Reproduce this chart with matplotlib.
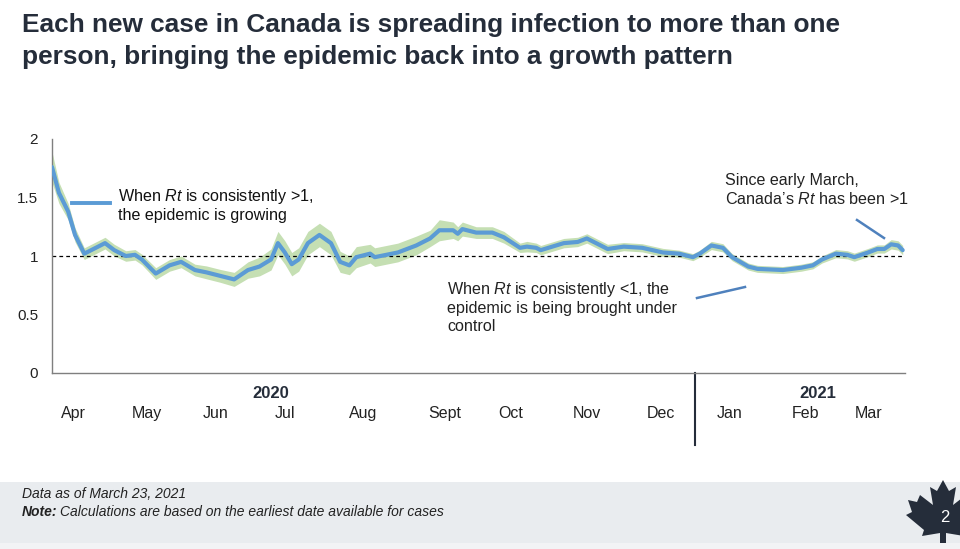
import matplotlib
matplotlib.use('Agg')
import numpy as np
from matplotlib import pyplot as plt
from matplotlib.patches import Rectangle, Polygon

plt.rcParams['font.family'] = ['Liberation Sans', 'DejaVu Sans']
plt.rcParams['mathtext.fontset'] = 'custom'
plt.rcParams['mathtext.rm'] = 'Liberation Sans'
plt.rcParams['mathtext.it'] = 'Liberation Sans:italic'

# Rt estimate (day index from mid-March 2020)
days = [0, 3, 7, 10, 14, 19, 23, 27, 32, 36, 39, 45, 51, 56, 62, 67, 73, 79, 85, 90,
        95, 98, 101, 104, 107, 111, 116, 121, 125, 129, 132, 138, 140, 150, 158, 164, 168,
        174, 176, 178, 184, 191, 196, 203, 206, 210, 212, 222, 228, 232, 241, 248, 256,
        265, 272, 278, 281, 286, 291, 295, 302, 306, 317, 325, 330, 334, 340, 345, 348,
        354, 358, 361, 364, 367, 369]
rt = [1.76, 1.54, 1.38, 1.18, 1.02, 1.07, 1.11, 1.05, 1.00, 1.01, 0.97, 0.85, 0.92, 0.95,
      0.88, 0.86, 0.83, 0.80, 0.88, 0.91, 0.97, 1.11, 1.03, 0.93, 0.97, 1.11, 1.18, 1.11,
      0.95, 0.92, 0.99, 1.02, 0.99, 1.03, 1.09, 1.15, 1.22, 1.22, 1.19, 1.23, 1.20, 1.20,
      1.16, 1.07, 1.08, 1.07, 1.05, 1.11, 1.12, 1.15, 1.06, 1.08, 1.07, 1.03, 1.02, 0.99,
      1.02, 1.09, 1.07, 0.99, 0.91, 0.89, 0.88, 0.90, 0.92, 0.97, 1.02, 1.01, 0.99, 1.03,
      1.06, 1.06, 1.10, 1.09, 1.05]
# half width of the uncertainty band
band = [0.13, 0.09, 0.07, 0.06, 0.05, 0.05, 0.05, 0.05, 0.045, 0.045, 0.045, 0.05, 0.05,
        0.05, 0.05, 0.055, 0.055, 0.06, 0.07, 0.08, 0.09, 0.1, 0.1, 0.1, 0.1, 0.1,
        0.1, 0.1, 0.09, 0.08, 0.09, 0.08, 0.08, 0.08, 0.08, 0.07, 0.09, 0.07, 0.06, 0.06,
        0.05, 0.05, 0.05, 0.04, 0.045, 0.04, 0.04, 0.04, 0.04, 0.04, 0.04, 0.035, 0.035,
        0.035, 0.03, 0.03, 0.03, 0.035, 0.035, 0.03, 0.03, 0.03, 0.03, 0.03, 0.03, 0.03,
        0.035, 0.035, 0.035, 0.035, 0.035, 0.035, 0.04, 0.04, 0.04]

months = ['Apr', 'May', 'Jun', 'Jul', 'Aug', 'Sept', 'Oct', 'Nov', 'Dec', 'Jan', 'Feb', 'Mar']
month_pos = [9.5, 41, 71, 101, 135, 170.5, 199, 232, 264, 294, 327, 354]
years = ['2020', '2021']
year_pos = [95, 332]
year_split = 279

W, H = 960, 549
navy = '#252d3a'
blue = '#5b9bd5'
green = '#c5dfb3'


def fx(px):
    return px / W


def fy(py):
    return 1 - py / H


fig = plt.figure(figsize=(9.6, 5.49), dpi=100)

# footer band
fig.patches.append(Rectangle((0, fy(543)), 1, fy(482) - fy(543), transform=fig.transFigure,
                             facecolor='#e9ecef', edgecolor='none', zorder=0))
fig.patches.append(Rectangle((0, 0), 1, fy(543), transform=fig.transFigure,
                             facecolor='#f2f3f5', edgecolor='none', zorder=0))

ax = fig.add_axes([fx(52), fy(373), fx(905) - fx(52), fy(139) - fy(373)])
x = np.array(days)
y = np.array(rt)
hw = np.array(band)
ax.fill_between(x, y - hw, y + hw, color=green, lw=0, zorder=1)
ax.plot(x, y, color=blue, lw=3, solid_joinstyle='round', solid_capstyle='round', zorder=3)
ax.axhline(1, color='black', lw=0.9, ls=(0, (3, 2.5)), zorder=2)

ax.set_xlim(0, 370)
ax.set_ylim(0, 2)
ax.set_yticks([0, 0.5, 1, 1.5, 2])
ax.set_yticklabels(['0', '0.5', '1', '1.5', '2'])
ax.set_xticks([])
ax.tick_params(axis='y', length=0, pad=10, labelsize=11, labelcolor='#222222')
for s in ['top', 'right']:
    ax.spines[s].set_visible(False)
ax.spines['left'].set_color('#7f7f7f')
ax.spines['bottom'].set_color('#7f7f7f')
ax.spines['left'].set_linewidth(1)
ax.spines['bottom'].set_linewidth(1)

tr = ax.get_xaxis_transform()
for m, p in zip(months, month_pos):
    ax.text(p, -0.175, m, transform=tr, ha='center', va='center', fontsize=11.5, color='#222222')
for yr, p in zip(years, year_pos):
    ax.text(p, -0.087, yr, transform=tr, ha='center', va='center', fontsize=12,
            fontweight='bold', color=navy)
ax.plot([year_split, year_split], [0, -0.308], transform=tr, color=navy, lw=1.5, clip_on=False)

# title
fig.text(fx(22), fy(25), 'Each new case in Canada is spreading infection to more than one',
         fontsize=18.9, fontweight='bold', color=navy, va='center')
fig.text(fx(22), fy(57), 'person, bringing the epidemic back into a growth pattern',
         fontsize=18.9, fontweight='bold', color=navy, va='center')

# annotations
fig.add_artist(plt.Line2D([fx(72), fx(110)], [fy(203), fy(203)], color=blue, lw=2.8))
fig.text(fx(118), fy(205), 'When $\\mathit{Rt}$ is consistently >1,\nthe epidemic is growing',
         fontsize=11.6, color='#111111', va='center', linespacing=1.2)
fig.add_artist(plt.Line2D([fx(697), fx(745)], [fy(298), fy(287)], color='#4f81bd', lw=1.8))
fig.text(fx(447), fy(307),
         'When $\\mathit{Rt}$ is consistently <1, the\nepidemic is being brought under\ncontrol',
         fontsize=11.6, color='#222222', va='center', linespacing=1.2)
fig.add_artist(plt.Line2D([fx(857), fx(884)], [fy(220), fy(238)], color='#4f81bd', lw=1.8))
fig.text(fx(725), fy(190), 'Since early March,\nCanada\u2019s $\\mathit{Rt}$ has been >1',
         fontsize=11.6, color='#222222', va='center', linespacing=1.2)

# footer
fig.text(fx(22), fy(494), 'Data as of March 23, 2021', fontsize=10, style='italic',
         color='#222222', va='center')
fig.text(fx(22), fy(512), 'Note:', fontsize=10, style='italic', fontweight='bold',
         color='#222222', va='center')
fig.text(fx(60), fy(512), 'Calculations are based on the earliest date available for cases',
         fontsize=10, style='italic', color='#222222', va='center')

# maple leaf page marker
leaf = [(943, 480), (949, 491), (956, 487), (953, 505), (966, 495), (969, 502), (978, 500),
        (974, 512), (980, 515), (962, 530), (964, 536), (946, 533), (946, 543), (940, 543),
        (940, 533), (922, 536), (924, 530), (906, 515), (912, 512), (908, 500), (917, 502),
        (920, 495), (933, 505), (930, 487), (937, 491)]
fig.patches.append(Polygon([(fx(a), fy(b)) for a, b in leaf], closed=True,
                           transform=fig.transFigure, facecolor=navy, edgecolor='none'))
fig.text(fx(945), fy(517), '2', fontsize=12, color='white', ha='center', va='center')

fig.savefig('out.png', dpi=100)
